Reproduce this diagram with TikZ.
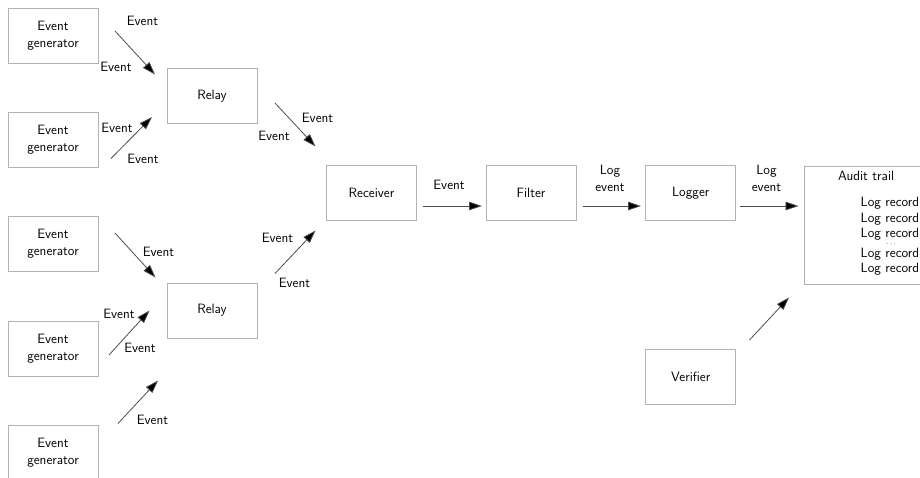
\documentclass[tikz,border=0pt]{standalone}
\usetikzlibrary{arrows.meta}
\begin{document}
\begin{tikzpicture}[x=1pt,y=-1pt,
  font=\sffamily\fontsize{13.5}{17}\selectfont,
  box/.style={draw=black!30,line width=0.6pt,rectangle,minimum width=90pt,minimum height=55pt,inner sep=0pt,align=center},
  lbl/.style={inner sep=0pt,align=center},
  arr/.style={draw=black!70,line width=0.8pt,-{Triangle[length=13pt,width=8.5pt,fill=black]}}]
\useasboundingbox (0,0) rectangle (920,477);
\clip (0,0) rectangle (920,477);

% components
\node[box] (g1) at (53,35.5) {Event\\generator};
\node[box] (g2) at (53,140) {Event\\generator};
\node[box] (g3) at (53,244) {Event\\generator};
\node[box] (g4) at (53,348.5) {Event\\generator};
\node[box] (g5) at (53,453) {Event\\generator};
\node[box] (r1) at (212,96) {Relay};
\node[box] (r2) at (212,310.5) {Relay};
\node[box] (rc) at (371.5,193) {Receiver};
\node[box] (fl) at (531,193) {Filter};
\node[box] (lg) at (690.7,193) {Logger};
\node[box] (vf) at (690.7,377) {Verifier};
\node[box,anchor=north west,minimum width=140pt,minimum height=118.5pt] (at) at (804.3,165.7) {};
\node[lbl,anchor=west] (att) at (838,175.5) {Audit trail};
\node[lbl,anchor=west] (lr1) at (860.5,203.5) {Log record};
\node[lbl,anchor=west] (lr2) at (860.5,219) {Log record};
\node[lbl,anchor=west] (lr3) at (860.5,234) {Log record};
\node[lbl,text height=0.8pt,text depth=0pt] (lrd) at (891,245.5) {\scriptsize$\cdots$};
\node[lbl,anchor=west] (lr4) at (860.5,254) {Log record};
\node[lbl,anchor=west] (lr5) at (860.5,269) {Log record};

% arrow end points
\coordinate (a1s) at (115,31);   \coordinate (a1e) at (155,74.5);
\coordinate (a2s) at (111,158.5);\coordinate (a2e) at (152,117);
\coordinate (a3s) at (275,103);  \coordinate (a3e) at (315.5,146.5);
\coordinate (a4s) at (115,233);  \coordinate (a4e) at (155.5,277.5);
\coordinate (a5s) at (109,355);  \coordinate (a5e) at (149.5,310.5);
\coordinate (a6s) at (118,423.5);\coordinate (a6e) at (158,380.5);
\coordinate (a7s) at (275,273.5);\coordinate (a7e) at (315.5,230.5);
\coordinate (a8s) at (423,206);  \coordinate (a8e) at (482,206);
\coordinate (a9s) at (582.5,206);\coordinate (a9e) at (641,206);
\coordinate (a10s) at (740,206); \coordinate (a10e) at (798.5,206);
\coordinate (a11s) at (749.5,340);\coordinate (a11e) at (789,297.5);

\draw[arr] (a1s) -- (a1e);
\draw[arr] (a2s) -- (a2e);
\draw[arr] (a3s) -- (a3e);
\draw[arr] (a4s) -- (a4e);
\draw[arr] (a5s) -- (a5e);
\draw[arr] (a6s) -- (a6e);
\draw[arr] (a7s) -- (a7e);
\draw[arr] (a8s) -- (a8e);
\draw[arr] (a9s) -- (a9e);
\draw[arr] (a10s) -- (a10e);
\draw[arr] (a11s) -- (a11e);

% connector labels
\node[lbl] (e1a) at (142.5,21) {Event};
\node[lbl] (e1b) at (116,67) {Event};
\node[lbl] (e2a) at (117,127.5) {Event};
\node[lbl] (e2b) at (143,159) {Event};
\node[lbl] (e3a) at (317.5,118) {Event};
\node[lbl] (e3b) at (274,136) {Event};
\node[lbl] (e4a) at (158.5,252) {Event};
\node[lbl] (e5a) at (119,313.5) {Event};
\node[lbl] (e5b) at (140,347.5) {Event};
\node[lbl] (e6a) at (152.5,420) {Event};
\node[lbl] (e7a) at (277.5,238) {Event};
\node[lbl] (e7b) at (294.5,283) {Event};
\node[lbl] (e8a) at (449,184.5) {Event};
\node[lbl] (e9a) at (610,178) {Log\\event};
\node[lbl] (e10a) at (766.5,178) {Log\\event};
\end{tikzpicture}
\end{document}
